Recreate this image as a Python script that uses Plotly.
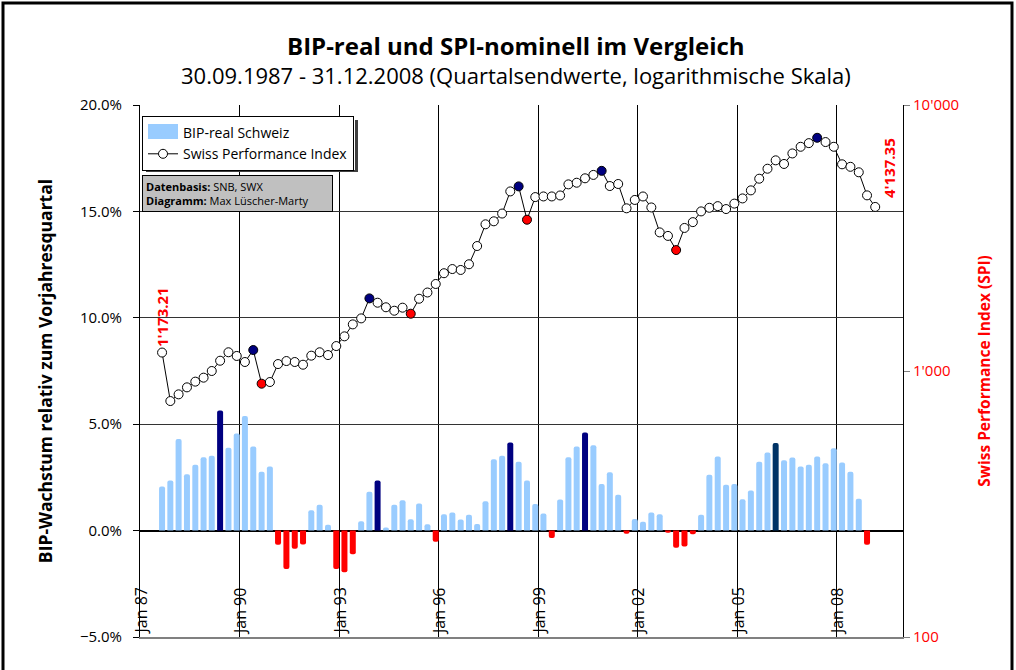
import plotly.graph_objects as go
import pandas as pd

# ---------------- data ----------------
bip_dates = pd.date_range("1987-09-01", periods=86, freq="3MS")   # Q3 1987 .. Q4 2008
spi_dates = pd.date_range("1987-09-01", periods=87, freq="3MS")   # Q3 1987 .. Q1 2009

bip_growth = [
    2.07, 2.35, 4.31, 2.65, 3.09, 3.45, 3.52, 5.64, 3.89, 4.56,
    5.39, 3.95, 2.76, 3.01, -0.67, -1.80, -0.85, -0.65, 0.96, 1.22,
    0.27, -1.81, -1.96, -1.11, 0.44, 1.82, 2.35, 0.14, 1.21, 1.43,
    0.53, 1.27, 0.30, -0.52, 0.77, 0.85, 0.52, 0.74, 0.31, 1.38,
    3.35, 3.52, 4.14, 3.23, 2.35, 1.25, 0.80, -0.35, 1.46, 3.45,
    3.95, 4.61, 4.01, 2.19, 2.74, 1.69, -0.15, 0.55, 0.42, 0.85,
    0.77, -0.10, -0.81, -0.75, -0.17, 0.75, 2.63, 3.48, 2.16, 2.19,
    1.47, 1.88, 3.24, 3.67, 4.12, 3.31, 3.43, 3.01, 3.10, 3.48,
    3.17, 3.87, 3.20, 2.77, 1.50, -0.67,
]
bip_peak_idx = [7, 26, 42, 51]
bip_peak_idx2 = [74]

spi_values = [
    1173.21, 771, 817, 868, 912, 944, 1000, 1093, 1176, 1139,
    1081, 1199, 896, 909, 1062, 1090, 1081, 1056, 1142, 1176,
    1148, 1241, 1350, 1497, 1577, 1875, 1806, 1736, 1685, 1730,
    1642, 1869, 1973, 2124, 2331, 2417, 2398, 2519, 2950, 3560,
    3654, 3908, 4733, 4944, 3704, 4506, 4531, 4531, 4570, 5031,
    5103, 5302, 5460, 5655, 4959, 5047, 4089, 4396, 4530, 4120,
    3320, 3220, 2849, 3450, 3628, 3981, 4108, 4167, 4063, 4259,
    4454, 4776, 5283, 5760, 6194, 6002, 6575, 6965, 7188, 7529,
    7256, 6965, 5985, 5857, 5585, 4574, 4137.35,
]
spi_high_idx = [11, 25, 43, 53, 79]
spi_low_idx = [12, 30, 44, 62]

x_tick_dates = ["1987-01-01", "1990-01-01", "1993-01-01", "1996-01-01",
                "1999-01-01", "2002-01-01", "2005-01-01", "2008-01-01"]
x_tick_text = ["Jan 87", "Jan 90", "Jan 93", "Jan 96", "Jan 99", "Jan 02", "Jan 05", "Jan 08"]
y2_tick_vals = [100, 1000, 10000]
y2_tick_text = ["100", "1'000", "10'000"]

# ---------------- styles ----------------
FONT = "Open Sans"
LIGHT = "#99CCFF"
NAVY = "#000080"
DARK2 = "#003366"
RED = "#FF0000"

bar_colors = []
for i, v in enumerate(bip_growth):
    if i in bip_peak_idx:
        bar_colors.append(NAVY)
    elif i in bip_peak_idx2:
        bar_colors.append(DARK2)
    elif v < 0:
        bar_colors.append(RED)
    else:
        bar_colors.append(LIGHT)

marker_fill = []
for i in range(len(spi_values)):
    if i in spi_high_idx:
        marker_fill.append(NAVY)
    elif i in spi_low_idx:
        marker_fill.append(RED)
    else:
        marker_fill.append("white")

BAR_W_MS = 66 * 24 * 3600 * 1000

fig = go.Figure()
fig.add_trace(go.Bar(
    x=bip_dates, y=bip_growth, name="BIP-real Schweiz",
    marker=dict(color=bar_colors, line=dict(width=0), cornerradius=2),
    width=[BAR_W_MS] * len(bip_growth),
    yaxis="y", showlegend=False,
))
# legend entry for the bar series (its wide swatch is drawn as a shape below)
fig.add_trace(go.Scatter(
    x=[None], y=[None], name="BIP-real Schweiz", mode="markers",
    marker=dict(color=LIGHT, opacity=0), yaxis="y", showlegend=True,
))
fig.add_trace(go.Scatter(
    x=spi_dates, y=spi_values, name="Swiss Performance Index",
    mode="lines+markers",
    line=dict(color="black", width=1),
    marker=dict(symbol="circle", size=9, color=marker_fill,
                line=dict(color="black", width=1)),
    yaxis="y2",
))

# plot area: x 140..903, y 105..637
L, R, T, B = 140, 903, 105, 637
W, H = R - L, B - T
def px(x):
    return (x - L) / W
def py(y):
    return (B - y) / H

fig.update_layout(
    width=1016, height=670,
    margin=dict(l=L, r=1016 - R, t=T, b=670 - B),
    paper_bgcolor="white", plot_bgcolor="white",
    font=dict(family=FONT, color="black"),
    barmode="overlay",
    showlegend=True,
    legend=dict(
        x=px(142), y=py(116), xanchor="left", yanchor="top",
        bgcolor="rgba(0,0,0,0)", bordercolor="black", borderwidth=1,
        font=dict(size=14, family=FONT), tracegroupgap=0,
        itemwidth=30,
    ),
    xaxis=dict(
        type="date", range=["1987-01-01", "2010-01-01"],
        tickvals=x_tick_dates, ticktext=x_tick_text,
        showticklabels=False,
        showgrid=True, gridcolor="black", gridwidth=1,
        showline=True, linecolor="#808080", linewidth=2,
        ticks="", zeroline=False,
    ),
    yaxis=dict(
        range=[-5, 20], dtick=5, tickformat=".1f", ticksuffix="%",
        tickfont=dict(size=15, family=FONT), ticklabelstandoff=8,
        ticks="outside", ticklen=6, tickcolor="black",
        showline=True, linecolor="black", linewidth=1,
        showgrid=True, gridcolor="#333333", gridwidth=1,
        zeroline=True, zerolinecolor="black", zerolinewidth=1.5,
        title=dict(text="<b>BIP-Wachstum relativ zum Vorjahresquartal</b>",
                   font=dict(size=17.5, family=FONT), standoff=22),
    ),
    yaxis2=dict(
        type="log", range=[2, 4], overlaying="y", side="right",
        tickvals=y2_tick_vals, ticktext=y2_tick_text,
        tickfont=dict(size=15, color=RED, family=FONT),
        ticks="outside", ticklen=6, tickcolor="#808080",
        showline=True, linecolor="black", linewidth=1,
        showgrid=False, zeroline=False,
        title=dict(text="<b>Swiss Performance Index (SPI)</b>",
                   font=dict(size=15.5, color=RED, family=FONT), standoff=20),
    ),
)

annotations = [
    dict(text="<b>BIP-real und SPI-nominell im Vergleich</b>", xref="paper", yref="paper",
         x=px(516), y=py(45), xanchor="center", yanchor="middle", showarrow=False,
         font=dict(size=24, family=FONT, color="black")),
    dict(text="30.09.1987 - 31.12.2008 (Quartalsendwerte, logarithmische Skala)",
         xref="paper", yref="paper",
         x=px(516), y=py(75), xanchor="center", yanchor="middle", showarrow=False,
         font=dict(size=22, family=FONT, color="black")),
    dict(text="<b>Datenbasis:</b> SNB, SWX<br><b>Diagramm:</b> Max Lüscher-Marty",
         xref="paper", yref="paper", x=px(142), y=py(175),
         xanchor="left", yanchor="top", align="left", showarrow=False,
         bgcolor="#C0C0C0", bordercolor="black", borderwidth=1, borderpad=3,
         width=183, font=dict(size=11, family=FONT, color="black")),
    dict(text="<b>1'173.21</b>", xref="x", yref="paper",
         x=spi_dates[0], y=py(317), xanchor="center", yanchor="middle",
         textangle=-90, showarrow=False,
         font=dict(size=15, family=FONT, color=RED)),
    dict(text="<b>4'137.35</b>", xref="paper", yref="paper",
         x=px(889), y=py(168), xanchor="center", yanchor="middle",
         textangle=-90, showarrow=False,
         font=dict(size=15, family=FONT, color=RED)),
]
# rotated date labels standing on the bottom edge of the plot area
for d, t in zip(x_tick_dates, x_tick_text):
    annotations.append(dict(
        text=t, xref="x", yref="paper", x=d, y=0,
        xanchor="center", yanchor="bottom", textangle=-90, showarrow=False,
        font=dict(size=16, family=FONT, color="black"),
    ))
fig.update_layout(annotations=annotations)

shapes = [
    # legend shadow
    dict(type="rect", xref="paper", yref="paper",
         x0=px(146), x1=px(358), y0=py(172), y1=py(120),
         fillcolor="#404040", line=dict(width=0), layer="above"),
    # legend background
    dict(type="rect", xref="paper", yref="paper",
         x0=px(142), x1=px(355), y0=py(170), y1=py(116),
         fillcolor="white", line=dict(width=0), layer="above"),
    # wide swatch for the bar series
    dict(type="rect", xref="paper", yref="paper",
         x0=px(148), x1=px(178), y0=py(139), y1=py(124),
         fillcolor=LIGHT, line=dict(width=0), layer="above"),
    # outer border
    dict(type="rect", xref="paper", yref="paper",
         x0=px(3), x1=px(1012), y0=py(700), y1=py(3),
         line=dict(color="black", width=3), fillcolor="rgba(0,0,0,0)"),
]
fig.update_layout(shapes=shapes)

fig.write_html("out.html", config={"displayModeBar": False},
               post_script="document.body.style.margin='0';")
